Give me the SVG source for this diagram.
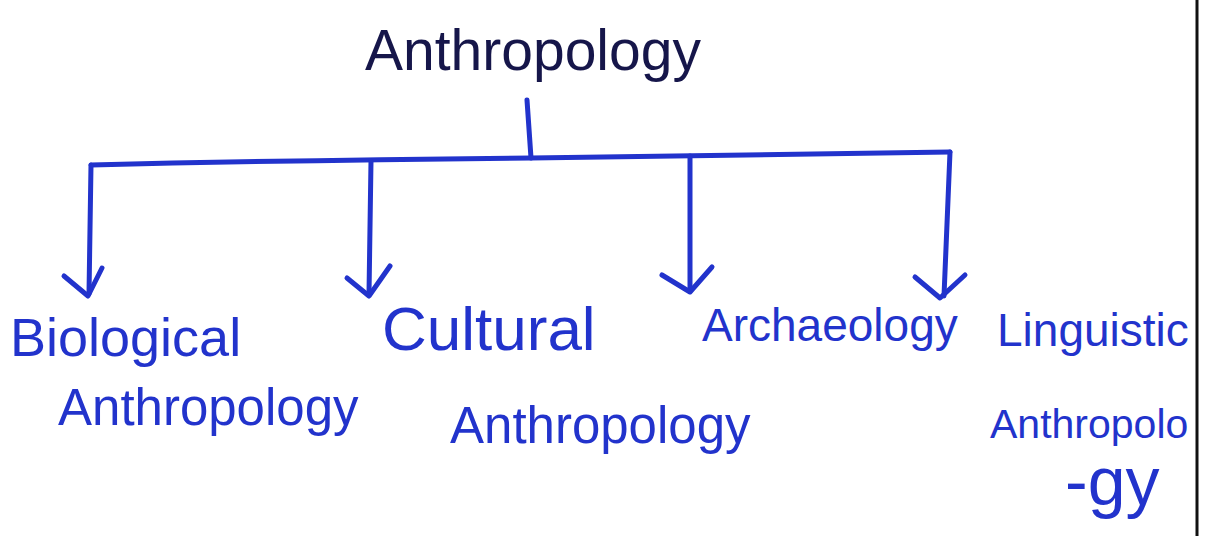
<svg xmlns="http://www.w3.org/2000/svg" width="1214" height="536" viewBox="0 0 1214 536">
<style>
.bg{fill:#ffffff}
.lbl{font-family:"Liberation Sans","DejaVu Sans",sans-serif;fill:#2233cc}
.title{font-family:"Liberation Sans","DejaVu Sans",sans-serif;fill:#16164a;font-size:57px}
.conn{fill:none;stroke:#2233cc;stroke-width:5;stroke-linecap:round;stroke-linejoin:round}
.edge{stroke:#111111;stroke-width:3}
</style>
<rect class="bg" x="0" y="0" width="1214" height="536"/>
<line class="edge" x1="1197" y1="0" x2="1197" y2="536"/>

<g id="connectors">
<path class="conn" d="M527,100 L531,158"/>
<path class="conn" d="M91,165 Q300,160 531,158 Q750,154 950,152"/>
<path class="conn" d="M91,165 L89,294"/>
<path class="conn" d="M64,276 L88,296 L102,268"/>
<path class="conn" d="M371,161 L369,294"/>
<path class="conn" d="M347,278 L369,296 L390,266"/>
<path class="conn" d="M690,156 L690,291"/>
<path class="conn" d="M662,275 L690,292 L712,267"/>
<path class="conn" d="M950,152 L944,296"/>
<path class="conn" d="M915,277 L940,298 L965,275"/>
</g>

<g id="node-anthropology">
<text class="title" x="365" y="70">Anthropology</text>
</g>

<g id="node-biological">
<text class="lbl" x="10" y="356" font-size="54">Biological</text>
<text class="lbl" x="58" y="425" font-size="51">Anthropology</text>
</g>

<g id="node-cultural">
<text class="lbl" x="382" y="350" font-size="62">Cultural</text>
<text class="lbl" x="450" y="443" font-size="51">Anthropology</text>
</g>

<g id="node-archaeology">
<text class="lbl" x="702" y="341" font-size="46">Archaeology</text>
</g>

<g id="node-linguistic">
<text class="lbl" x="997" y="346" font-size="46">Linguistic</text>
<text class="lbl" x="990" y="438" font-size="41">Anthropolo</text>
<text class="lbl" x="1065" y="505" font-size="68">-gy</text>
</g>
</svg>
